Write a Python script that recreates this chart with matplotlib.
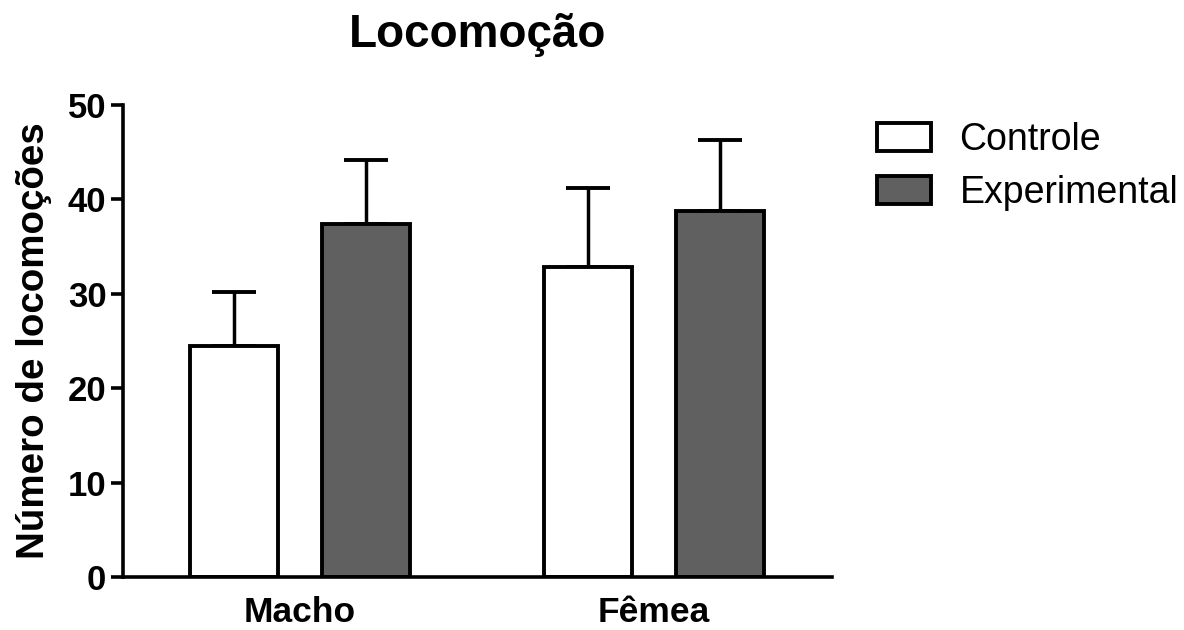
import matplotlib
matplotlib.use("Agg")
import matplotlib.pyplot as plt
import numpy as np

categories = ["Macho", "Fêmea"]
series_names = ["Controle", "Experimental"]
controle_mean = [24.5, 32.8]
controle_err = [5.7, 8.4]
experimental_mean = [37.4, 38.8]
experimental_err = [6.8, 7.5]
yticks = [0, 10, 20, 30, 40, 50]

plt.rcParams['font.family'] = ['Liberation Sans', 'DejaVu Sans']

fig = plt.figure(figsize=(11.84, 6.3), dpi=100)
ax = fig.add_axes([123/1184, 53/630, (832-123)/1184, (577-105)/630])

x = np.arange(len(categories))
off = 0.1864
w = 0.2486
lw = 2.8
ax.bar(x - off, controle_mean, w, color='white', edgecolor='black', linewidth=lw,
       label=series_names[0], zorder=2)
ax.bar(x + off, experimental_mean, w, color='#606060', edgecolor='black', linewidth=lw,
       label=series_names[1], zorder=2)
ax.errorbar(x - off, controle_mean, yerr=[np.zeros(2), controle_err], fmt='none',
            ecolor='black', elinewidth=2.5, capsize=16, capthick=lw, zorder=1)
ax.errorbar(x + off, experimental_mean, yerr=[np.zeros(2), experimental_err], fmt='none',
            ecolor='black', elinewidth=2.5, capsize=16, capthick=lw, zorder=1)

ax.set_xlim(-0.5, 1.503)
ax.set_ylim(0, 50)
ax.set_yticks(yticks)
ax.set_yticklabels([str(t) for t in yticks], fontsize=25, fontweight='bold')
ax.set_xticks(x)
ax.set_xticklabels(categories, fontsize=25.5, fontweight='bold')
ax.tick_params(axis='x', length=0, pad=14)
ax.tick_params(axis='y', length=9, width=2.6, pad=3)
for s in ['top', 'right']:
    ax.spines[s].set_visible(False)
for s in ['left', 'bottom']:
    ax.spines[s].set_linewidth(2.6)
ax.set_ylabel("Número de locomoções", fontsize=27.7, fontweight='bold', labelpad=11)
ax.set_title("Locomoção", fontsize=33, fontweight='bold', pad=42)

leg = ax.legend(loc='upper left', bbox_to_anchor=(877/1184, 1 - 122/630),
                bbox_transform=fig.transFigure, frameon=False, fontsize=27,
                handlelength=1.45, handleheight=0.78, handletextpad=0.75,
                labelspacing=0.45, borderaxespad=0, borderpad=0)
for p in leg.get_patches():
    p.set_linewidth(2.8)

fig.savefig("out.png", dpi=100)
